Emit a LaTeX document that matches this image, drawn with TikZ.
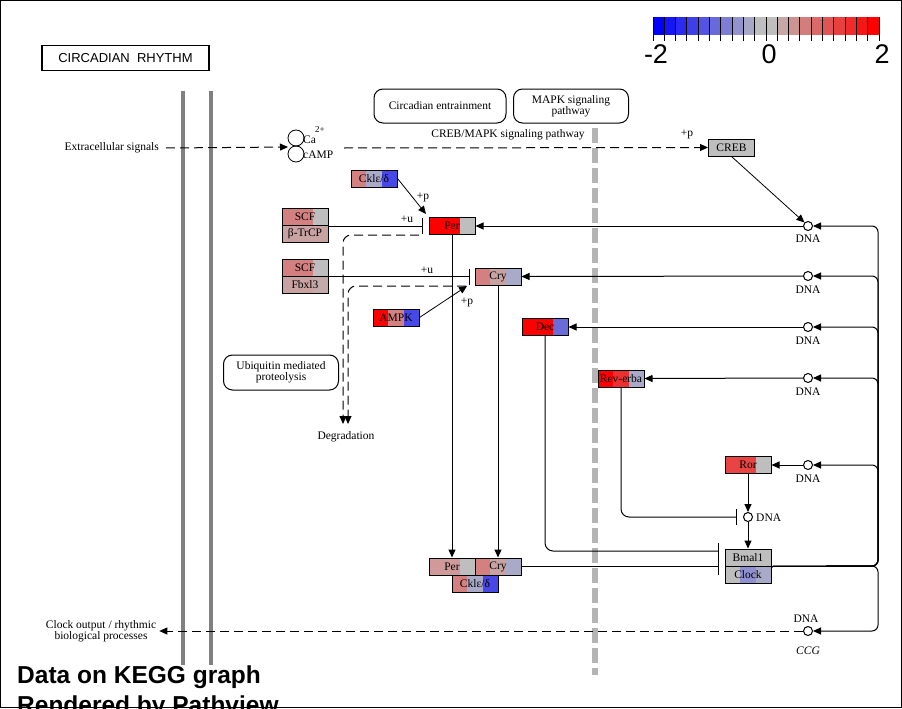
\documentclass[tikz,border=0pt]{standalone}
\usepackage{fontspec}
\setmainfont{Liberation Serif}
\newfontfamily\hv{Liberation Sans}
\usetikzlibrary{arrows.meta,calc,shapes.geometric}
\definecolor{kred}{HTML}{FF0000}
\definecolor{kgrey}{HTML}{BEBEBE}
\definecolor{kpink}{HTML}{D48080}
\definecolor{klpink}{HTML}{C9A2A2}
\definecolor{kppink}{HTML}{D09A9A}
\definecolor{kgb}{HTML}{A9A9C8}
\definecolor{kblue}{HTML}{4848E8}
\definecolor{kmblue}{HTML}{6A6AD8}
\definecolor{kcblue}{HTML}{9090D0}
\definecolor{kror}{HTML}{E84444}
\definecolor{krev}{HTML}{EC3030}
\definecolor{kfb}{HTML}{C4ABAB}
\definecolor{kmem}{HTML}{808080}
\definecolor{kdgrey}{HTML}{B4B4B4}
\tikzset{
  gene/.style n args={3}{draw, line width=1pt, minimum width=46pt, minimum height=17pt, inner sep=0pt,
    path picture={
      \fill[#1] (path picture bounding box.south west) rectangle ($(path picture bounding box.north west)!0.3333!(path picture bounding box.north east)$);
      \fill[#2] ($(path picture bounding box.south west)!0.3333!(path picture bounding box.south east)$) rectangle ($(path picture bounding box.north west)!0.6667!(path picture bounding box.north east)$);
      \fill[#3] ($(path picture bounding box.south west)!0.6667!(path picture bounding box.south east)$) rectangle (path picture bounding box.north east);
    }},
  conn/.style={line width=1pt},
  arr/.style={conn, -{Triangle[length=8pt,width=7pt]}},
  inh/.style={conn, -{Bar[width=16pt]}},
  kdash/.style={dash pattern=on 9pt off 5pt},
  dna/.style={circle, draw, fill=white, line width=1pt, minimum size=9pt, inner sep=0pt},
  lbl/.style={inner sep=0pt},
  pathbox/.style={draw, line width=1pt, rounded corners=9pt, align=center, inner sep=0pt},
  mem/.style={line width=4.5pt, kmem},
}
\begin{document}
\begin{tikzpicture}[x=1pt,y=-1pt, font=\fontsize{11.5}{11}\selectfont]
\useasboundingbox (0,0) rectangle (902,709);
\fill[white] (0,0) rectangle (902,709);

% colour bar
\foreach \i in {0,...,19}{
  \ifnum\i<10
    \pgfmathtruncatemacro{\p}{\i*100/9}
    \colorlet{segc}{kgrey!\p!blue}
  \else
    \pgfmathtruncatemacro{\p}{(19-\i)*100/9}
    \colorlet{segc}{kgrey!\p!red}
  \fi
  \fill[segc] ({653+\i*11.3},17) rectangle ({653+(\i+1)*11.3},35);
}
\foreach \i in {0,...,20}{
  \draw[line width=1pt] ({653+\i*11.3},17) -- ({653+\i*11.3},41);
}
\node[lbl, font=\hv\fontsize{27}{27}\selectfont] (cbm) at (656,54) {-2};
\node[lbl, font=\hv\fontsize{27}{27}\selectfont] (cbz) at (769,54) {0};
\node[lbl, font=\hv\fontsize{27}{27}\selectfont] (cbp) at (882,54) {2};

% title box
\node[draw, line width=1.2pt, minimum width=167pt, minimum height=25pt, inner sep=0pt, font=\hv\fontsize{13}{13}\selectfont] (title) at (125.5,58) {CIRCADIAN\ \ RHYTHM};

% membranes
\draw[mem] (183,91) -- (183,665);
\draw[mem] (211,91) -- (211,665);
\draw[line width=6pt, kdgrey, dash pattern=on 15pt off 5pt] (595,128) -- (595,675);

% pathway boxes
\node[pathbox, minimum width=132pt, minimum height=34pt] (entr) at (440,106) {Circadian entrainment};
\node[pathbox, minimum width=115pt, minimum height=34pt] (mapk) at (571,106) {MAPK signaling\\pathway};
\node[lbl] (crebmapk) at (508,135) {CREB/MAPK signaling pathway};
\node[pathbox, minimum width=115pt, minimum height=35pt] (ubi) at (281,372.5) {Ubiquitin mediated\\proteolysis};

% extracellular
\node[lbl, anchor=east] (ext) at (159,148) {Extracellular signals};
\node[circle, draw, line width=0.8pt, minimum size=16pt, inner sep=0pt] (ca) at (296,138) {};
\node[circle, draw, line width=0.8pt, minimum size=16pt, inner sep=0pt] (camp) at (296,154) {};
\node[lbl, anchor=west] (catxt) at (303,140) {Ca};
\node[lbl, anchor=west, font=\fontsize{9}{9}\selectfont] (casup) at (315,130) {2+};
\node[lbl, anchor=west] (camptxt) at (303,155) {cAMP};
\coordinate (catip) at (288,147);
\coordinate (cabus) at (344,148);
\draw[kdash, arr] ([xshift=7pt]ext.east) -- (catip);

% CREB
\node[gene={kgrey}{kgrey}{kgrey}] (creb) at (731.5,147.5) {CREB};
\draw[kdash, arr] (cabus) -- (creb.west);
\node[lbl] (pcreb) at (687,134) {+p};

% DNA circles
\node[dna] (d1) at (808,226) {};
\node[dna] (d2) at (808,276) {};
\node[dna] (d3) at (808,327) {};
\node[dna] (d4) at (808,378) {};
\node[dna] (d5) at (808,465) {};
\node[dna] (d6) at (748,517) {};
\node[dna] (d7) at (808,631) {};
\node[lbl] (l1) at (808,239) {DNA};
\node[lbl] (l2) at (808,290) {DNA};
\node[lbl] (l3) at (808,341) {DNA};
\node[lbl] (l4) at (808,392) {DNA};
\node[lbl] (l5) at (808,479) {DNA};
\node[lbl, anchor=west] (l6) at (756,518) {DNA};
\node[lbl] (l7) at (806,619) {DNA};
\node[lbl, font=\itshape\fontsize{11.5}{11}\selectfont] (ccg) at (808,651) {CCG};

\draw[conn, -{Triangle[length=8pt,width=7pt]}, line width=0.8pt] (creb.south) -- (d1.north west);

% genes
\node[gene={kred}{kred}{kgrey}] (per) at (452,226) {Per};
\node[gene={kpink}{kgb}{kblue}] (ckl) at (374,178.5) {Cklε/δ};
\node[gene={kpink}{kpink}{kgrey}] (scf1) at (305,217) {SCF};
\node[gene={klpink}{klpink}{klpink}] (btrcp) at (305,234) {β-TrCP};
\node[gene={kpink}{kpink}{kgrey}] (scf2) at (305,267.5) {SCF};
\node[gene={klpink}{klpink}{kfb}] (fbxl3) at (305,284.5) {Fbxl3};
\node[gene={kpink}{klpink}{kgb}] (cry) at (498,276.5) {Cry};
\node[gene={kred}{kpink}{kblue}] (ampk) at (396,317.5) {AMPK};
\node[gene={kred}{kred}{kmblue}] (dec) at (545,327) {Dec};
\node[gene={kred}{krev}{kgb}] (rev) at (621,378.5) {Rev-erba};
\node[gene={kror}{kror}{kgrey}] (ror) at (748,465) {Ror};
\node[gene={kgrey}{kgrey}{kgrey}] (bmal) at (748,557.5) {Bmal1};
\node[gene={kgrey}{kcblue}{kgb}] (clock) at (748,574.5) {Clock};
\node[gene={kppink}{kppink}{kgrey}] (perc) at (452,566.5) {Per};
\node[gene={kpink}{klpink}{kgb}] (cryc) at (498,566.5) {Cry};
\node[gene={kpink}{kgb}{kblue}] (cklc) at (475,583.5) {Cklε/δ};

% DNA -> genes
\draw[arr] (d1.west) -- (per.east);
\draw[arr] (d2.west) -- (cry.east);
\draw[arr] (d3.west) -- (dec.east);
\draw[arr] (d4.west) -- (rev.east);
\draw[arr] (d5.west) -- (ror.east);
\draw[arr] (ror.south) -- (d6.north);
\draw[arr] (d6.south) -- (bmal.north);

% Bmal1/Clock bus
\coordinate (bus) at (878,566);
\foreach \d in {d1,d2,d3,d4,d5}{
  \draw[arr, rounded corners=6pt] (bmal.south east) -- (bus) -- (bus |- \d) -- (\d.east);
}
\draw[arr, rounded corners=6pt] (bmal.south east) -- (bus) -- (bus |- d7) -- (d7.east);

% phosphorylation / ubiquitination
\coordinate (ckltip) at (426,214);
\draw[arr, line width=0.8pt] (ckl.east) -- (ckltip);
\node[lbl] (pckl) at (423,197) {+p};
\draw[inh] (scf1.south east) -- ([xshift=-6pt]per.west);
\node[lbl] (uper) at (407,219) {+u};
\draw[inh] (scf2.south east) -- ([xshift=-5pt]cry.west);
\node[lbl] (ucry) at (427,270) {+u};
\coordinate (ampktip) at (467,286);
\draw[arr, line width=0.8pt] (ampk.east) -- (ampktip);
\node[lbl] (pampk) at (467,302) {+p};

% degradation
\node[lbl] (degr) at (346,437) {Degradation};
\coordinate (dgA) at (419,235);
\coordinate (dgB) at (466,286);
\coordinate (dgtA) at (343,424);
\coordinate (dgtB) at (348,424);
\draw[arr, kdash, rounded corners=8pt] (dgA) -- (dgA -| dgtA) -- (dgtA);
\draw[arr, kdash, rounded corners=8pt] (dgB) -- (dgB -| dgtB) -- (dgtB);

% complex formation
\draw[arr] (per.south) -- (perc.north);
\draw[arr] (cry.south) -- (cryc.north);

% inhibitions to Bmal1/Clock
\coordinate (decbar) at (719,551);
\draw[inh, rounded corners=8pt] (dec.south) -- (dec.south |- decbar) -- (decbar);
\coordinate (crybar) at (719,566.5);
\draw[inh] (cryc.east) -- (crybar);
\coordinate (revbar) at (737,517);
\draw[inh, rounded corners=8pt] (rev.south) -- (rev.south |- revbar) -- (revbar);

% clock output
\node[lbl, align=center] (clk) at (101,631.5) {Clock output / rhythmic\\biological processes};
\draw[kdash, arr] (d7.west) -- ([xshift=3pt]clk.east |- d7.west);

% footer
\node[lbl, anchor=base west, font=\hv\bfseries\fontsize{24.5}{24.5}\selectfont] (f1) at (17,683) {Data on KEGG graph};
\node[lbl, anchor=base west, font=\hv\bfseries\fontsize{24.5}{24.5}\selectfont] (f2) at (17,713) {Rendered by Pathview};

% frame
\draw[line width=1pt] (0.5,0.5) rectangle (901,707.5);
\end{tikzpicture}
\end{document}
